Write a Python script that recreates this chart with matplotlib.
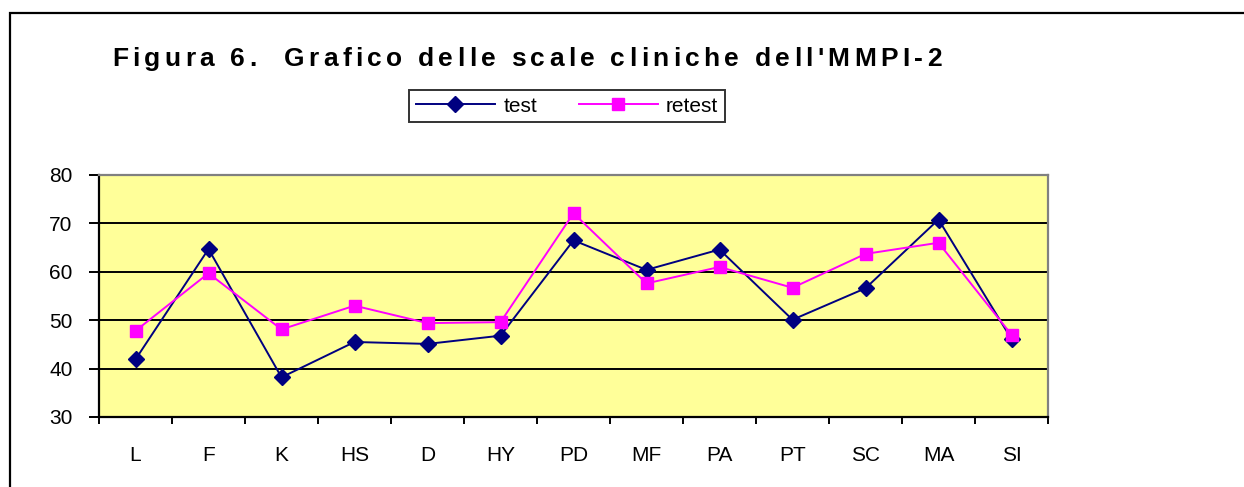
import matplotlib
matplotlib.use("Agg")
import matplotlib.pyplot as plt
from matplotlib.patches import Rectangle
from matplotlib.font_manager import FontProperties, findfont, get_font
import numpy as np

scales = ["L", "F", "K", "HS", "D", "HY", "PD", "MF", "PA", "PT", "SC", "MA", "SI"]
test = [41.9, 64.7, 38.2, 45.5, 45.1, 46.8, 66.5, 60.4, 64.6, 50.1, 56.6, 70.8, 46.1]
retest = [47.8, 59.7, 48.1, 53.0, 49.4, 49.6, 72.1, 57.6, 61.0, 56.7, 63.7, 66.0, 47.0]
y_ticks = [30, 40, 50, 60, 70, 80]
title = "Figura 6.  Grafico delle scale cliniche dell'MMPI-2"

W, H = 1244, 487
DPI = 100
plt.rcParams['font.family'] = ['Liberation Sans', 'DejaVu Sans']
fig = plt.figure(figsize=(W / DPI, H / DPI), dpi=DPI)


def tracked_text(fig, x_px, baseline_px, s, size, weight, tracking_px):
    """Draw a string with extra letter spacing (as in the original chart)."""
    prop = FontProperties(family='Liberation Sans', weight=weight, size=size)
    font = get_font(findfont(prop))
    font.set_size(size, DPI)
    x = x_px
    for c in s:
        if c != ' ':
            fig.text(x / W, 1 - baseline_px / H, c, fontproperties=prop,
                     ha='left', va='baseline')
        adv = font.load_char(ord(c)).linearHoriAdvance / 65536.0
        x += adv + tracking_px


# outer chart frame (clipped on the right and bottom)
fig.patches.append(Rectangle((10 / W, -0.2), 1.2, 1 - 13 / H + 0.2,
                             transform=fig.transFigure, fill=False,
                             edgecolor='black', linewidth=1.6, clip_on=False))

ax = fig.add_axes([99 / W, 1 - 417 / H, 949 / W, 242 / H])
ax.set_facecolor('#FFFF99')
x = np.arange(len(scales))
ax.plot(x, test, color='#000080', linewidth=1.4, marker='D', markersize=8.5,
        markerfacecolor='#000080', markeredgecolor='#000080', label='test', zorder=3)
ax.plot(x, retest, color='#FF00FF', linewidth=1.4, marker='s', markersize=9,
        markerfacecolor='#FF00FF', markeredgecolor='#FF00FF', label='retest', zorder=4)

ax.set_xlim(-0.5, len(scales) - 0.5)
ax.set_ylim(y_ticks[0], y_ticks[-1])
ax.set_yticks(y_ticks)
ax.set_yticklabels([str(v) for v in y_ticks], fontsize=15)
for v in y_ticks[1:-1]:
    ax.axhline(v, color='black', linewidth=1.4, zorder=1)

ax.set_xticks(np.arange(len(scales) + 1) - 0.5)
ax.set_xticklabels([])
ax.set_xticks(x, minor=True)
ax.set_xticklabels(scales, minor=True, fontsize=15)
ax.tick_params(axis='x', which='major', direction='out', length=5, width=1.4)
ax.tick_params(axis='x', which='minor', length=0, pad=21)
ax.tick_params(axis='y', direction='out', length=7, width=1.4, pad=12)

for s in ['left', 'bottom']:
    ax.spines[s].set_color('black')
    ax.spines[s].set_linewidth(1.6)
for s in ['top', 'right']:
    ax.spines[s].set_color('#808080')
    ax.spines[s].set_linewidth(1.6)

tracked_text(fig, 112, 66, title, 19, 'bold', 4.3)

leg = fig.legend(loc='center', bbox_to_anchor=(567 / W, 1 - 106 / H), ncol=2,
                 fontsize=15, frameon=True, fancybox=False, shadow=False,
                 handlelength=3.8, columnspacing=2.0, borderpad=0.3,
                 handletextpad=0.4, borderaxespad=0)
leg.get_frame().set_edgecolor('black')
leg.get_frame().set_linewidth(1.4)

fig.savefig('out.png', dpi=DPI)
